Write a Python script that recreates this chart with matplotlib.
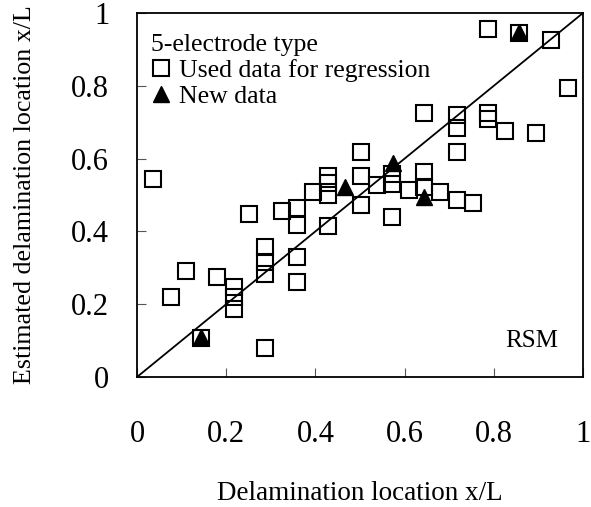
import matplotlib.pyplot as plt
from matplotlib.lines import Line2D

plt.rcParams["font.family"] = ["Liberation Serif", "DejaVu Serif"]

# Used data for regression (open squares)
used_x = [0.035, 0.076, 0.110, 0.143, 0.180, 0.217, 0.217, 0.217, 0.251, 0.287,
          0.287, 0.287, 0.287, 0.324, 0.359, 0.359, 0.359, 0.359, 0.394, 0.429,
          0.429, 0.429, 0.429, 0.502, 0.502, 0.502, 0.537, 0.572, 0.572, 0.572,
          0.610, 0.643, 0.643, 0.643, 0.679, 0.717, 0.717, 0.717, 0.717, 0.754,
          0.787, 0.787, 0.787, 0.825, 0.857, 0.894, 0.928, 0.967]
used_y = [0.544, 0.220, 0.292, 0.108, 0.275, 0.248, 0.220, 0.188, 0.447, 0.356,
          0.317, 0.282, 0.081, 0.456, 0.465, 0.418, 0.330, 0.262, 0.507, 0.552,
          0.532, 0.500, 0.415, 0.619, 0.552, 0.472, 0.527, 0.559, 0.529, 0.440,
          0.515, 0.724, 0.564, 0.522, 0.509, 0.720, 0.683, 0.619, 0.485, 0.477,
          0.955, 0.726, 0.708, 0.676, 0.944, 0.669, 0.926, 0.795]

# New data (filled triangles)
new_x = [0.143, 0.466, 0.573, 0.644, 0.857]
new_y = [0.111, 0.523, 0.587, 0.495, 0.949]

ticks = [0, 0.2, 0.4, 0.6, 0.8, 1]
tick_labels = ["0", "0.2", "0.4", "0.6", "0.8", "1"]

fig = plt.figure(figsize=(5.91, 5.07), dpi=100)
ax = fig.add_axes([0.2318, 0.2564, 0.7547, 0.718])

# 1:1 line
ax.plot([0, 1], [0, 1], color="black", linewidth=1.3, zorder=1)

ax.plot(used_x, used_y, linestyle="none", marker="s", markersize=11,
        markerfacecolor="none", markeredgecolor="black", markeredgewidth=1.5, zorder=2)
ax.plot(new_x, new_y, linestyle="none", marker="^", markersize=11,
        color="black", zorder=3)

ax.set_xlim(0, 1)
ax.set_ylim(0, 1)
ax.set_xticks(ticks)
ax.set_xticklabels(tick_labels)
ax.set_yticks(ticks)
ax.set_yticklabels(tick_labels)
ax.tick_params(direction="in", length=6.5, width=0.8, color="#555555",
               labelsize=22)
ax.tick_params(axis="x", pad=31)
ax.tick_params(axis="y", pad=20)
for s in ax.spines.values():
    s.set_linewidth(1.3)

ax.set_xlabel("Delamination location x/L", fontsize=19.5, labelpad=23)
ax.set_ylabel("Estimated delamination location x/L", fontsize=18.7, labelpad=25)

handles = [
    Line2D([], [], linestyle="none", marker="s", markersize=11,
           markerfacecolor="none", markeredgecolor="black", markeredgewidth=1.5),
    Line2D([], [], linestyle="none", marker="^", markersize=11, color="black"),
]
leg = ax.legend(handles, ["Used data for regression", "New data"],
                title="5-electrode type", loc="upper left",
                bbox_to_anchor=(-0.015, 1.0), frameon=False, fontsize=18.5,
                title_fontsize=18.5, handlelength=0.8, handletextpad=0.3,
                labelspacing=0.12, borderpad=0.3, alignment="left")

ax.text(0.885, 0.10, "RSM", transform=ax.transAxes, fontsize=18,
        ha="center", va="center")

fig.savefig("out.png", dpi=100)
